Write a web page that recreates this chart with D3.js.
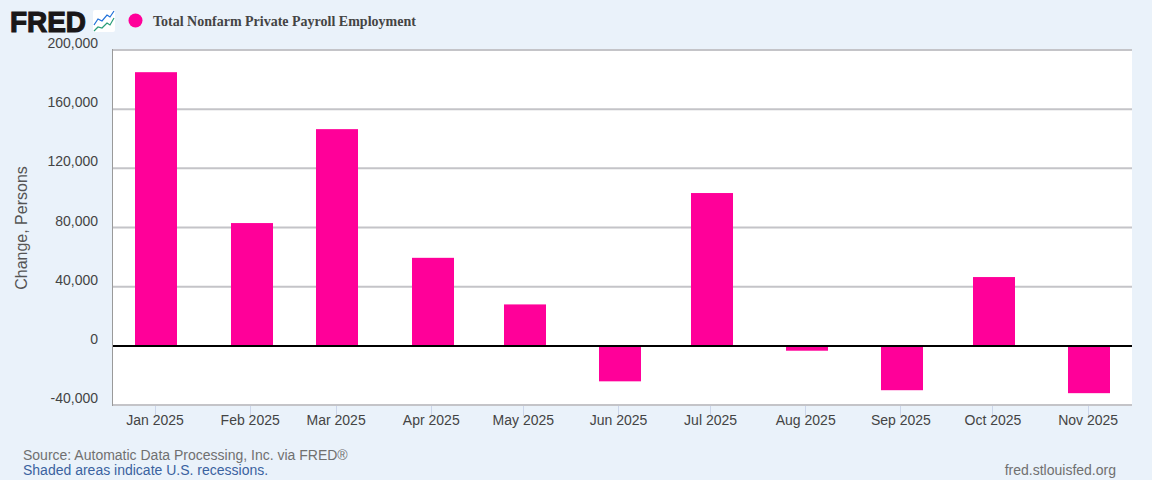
<!DOCTYPE html>
<html>
<head>
<meta charset="utf-8">
<script src="https://cdnjs.cloudflare.com/ajax/libs/d3/7.8.5/d3.min.js"></script>
<style>
html,body{margin:0;padding:0;background:#eaf2fa;}
svg{display:block;}
text{font-family:"Liberation Sans",Arial,sans-serif;}
</style>
</head>
<body>
<svg id="c" width="1152" height="480"></svg>
<script>
const months = ["2025-01-01","2025-02-01","2025-03-01","2025-04-01","2025-05-01","2025-06-01","2025-07-01","2025-08-01","2025-09-01","2025-10-01","2025-11-01"];
const values = [185000,83000,146500,59500,28000,-24000,103300,-3300,-30000,46500,-32000];
const yTicks = [-40000,0,40000,80000,120000,160000,200000];
const seriesName = "Total Nonfarm Private Payroll Employment";
const yTitle = "Change, Persons";
const sourceText = "Source: Automatic Data Processing, Inc. via FRED®";
const noteText = "Shaded areas indicate U.S. recessions.";
const siteText = "fred.stlouisfed.org";
const logoBlue = [[1,15],[5,9],[9,11],[14,5],[17,7],[21,1]];
const logoGreen = [[1,21],[5,17],[9,18],[14,13],[17,15],[21,8]];

const parse = d3.utcParse("%Y-%m-%d");
const dates = months.map(parse);
const fmtMonth = d3.utcFormat("%b %Y");
const L=113,R=1132,T=50,B=405;
const day0 = Date.UTC(2025,0,1), dayMs = 864e5;
const x = d3.scaleUtc()
  .domain([new Date(day0-13.7*dayMs), new Date(day0+318.3*dayMs)])
  .range([L,R]);
const y = d3.scaleLinear().domain([-40000,200000]).range([B,T]);
const svg = d3.select("#c");

svg.append("rect").attr("width",1152).attr("height",480).attr("fill","#eaf2fa");
svg.append("rect").attr("x",L).attr("y",T).attr("width",R-L).attr("height",B-T).attr("fill","#fff");

// gridlines
svg.append("g").selectAll("line").data(yTicks.filter(d=>d!==0)).join("line")
  .attr("x1",L).attr("x2",R)
  .attr("y1",d=>y(d)).attr("y2",d=>y(d))
  .attr("stroke","#c4c4c8").attr("stroke-width",2);

// y axis line
svg.append("line").attr("x1",L-0.5).attr("x2",L-0.5).attr("y1",T-1).attr("y2",B+1)
  .attr("stroke","#9a9a9a").attr("stroke-width",1);

// x ticks
svg.append("g").selectAll("line").data(dates).join("line")
  .attr("x1",d=>Math.floor(x(d))+0.5).attr("x2",d=>Math.floor(x(d))+0.5)
  .attr("y1",B+1).attr("y2",B+11)
  .attr("stroke","#ccd6eb").attr("stroke-width",1);

// bars
const barW = 42;
svg.append("g").selectAll("rect").data(values).join("rect")
  .attr("x",(d,i)=>Math.round(x(dates[i])+1.32-barW/2))
  .attr("width",barW)
  .attr("y",d=>y(Math.max(d,0)))
  .attr("height",d=>Math.abs(y(d)-y(0)))
  .attr("fill","#ff0099");

// zero line
svg.append("line").attr("x1",L).attr("x2",R).attr("y1",346).attr("y2",346)
  .attr("stroke","#000").attr("stroke-width",2);

// y labels
const fmtY = d => d3.format(",")(d).replace("\u2212","-");
svg.append("g").selectAll("text").data(yTicks).join("text")
  .attr("x",98).attr("y",d=>y(d)-2)
  .attr("text-anchor","end")
  .attr("font-size",14).attr("fill","#444")
  .text(fmtY);

// x labels
svg.append("g").selectAll("text").data(dates).join("text")
  .attr("x",d=>x(d)).attr("y",425)
  .attr("text-anchor","middle")
  .attr("font-size",14).attr("fill","#444")
  .text(fmtMonth);

// y title
svg.append("text").attr("transform","translate(27,228) rotate(-90)")
  .attr("text-anchor","middle").attr("font-size",16).attr("fill","#555").text(yTitle);

// footer
svg.append("text").attr("x",23).attr("y",460).attr("font-size",14).attr("fill","#707070").text(sourceText);
svg.append("text").attr("x",23).attr("y",475).attr("font-size",14).attr("fill","#3a62a0").text(noteText);
svg.append("text").attr("x",1116).attr("y",475).attr("text-anchor","end").attr("font-size",14).attr("fill","#707070").text(siteText);

// logo
svg.append("text").attr("x",10).attr("y",32).attr("font-size",30).attr("font-weight",700)
  .attr("textLength",76).attr("lengthAdjust","spacingAndGlyphs")
  .attr("stroke","#1a1718").attr("stroke-width",1.2)
  .attr("fill","#1a1718").text("FRED");
const icon = svg.append("g").attr("transform","translate(93,10)");
icon.append("rect").attr("width",22).attr("height",22).attr("rx",2).attr("fill","#fff");
const ln = d3.line();
icon.append("path").attr("d",ln(logoBlue)).attr("fill","none").attr("stroke","#1e6fd9").attr("stroke-width",1.2);
icon.append("path").attr("d",ln(logoGreen)).attr("fill","none").attr("stroke","#2a9d78").attr("stroke-width",1.2);

// legend
svg.append("circle").attr("cx",135.5).attr("cy",20.5).attr("r",7).attr("fill","#ff0099");
svg.append("text").attr("x",153).attr("y",26)
  .style("font-family",'"Liberation Serif","Times New Roman",serif')
  .attr("font-size",14).attr("font-weight",700).attr("fill","#444").text(seriesName);
</script>
</body>
</html>
